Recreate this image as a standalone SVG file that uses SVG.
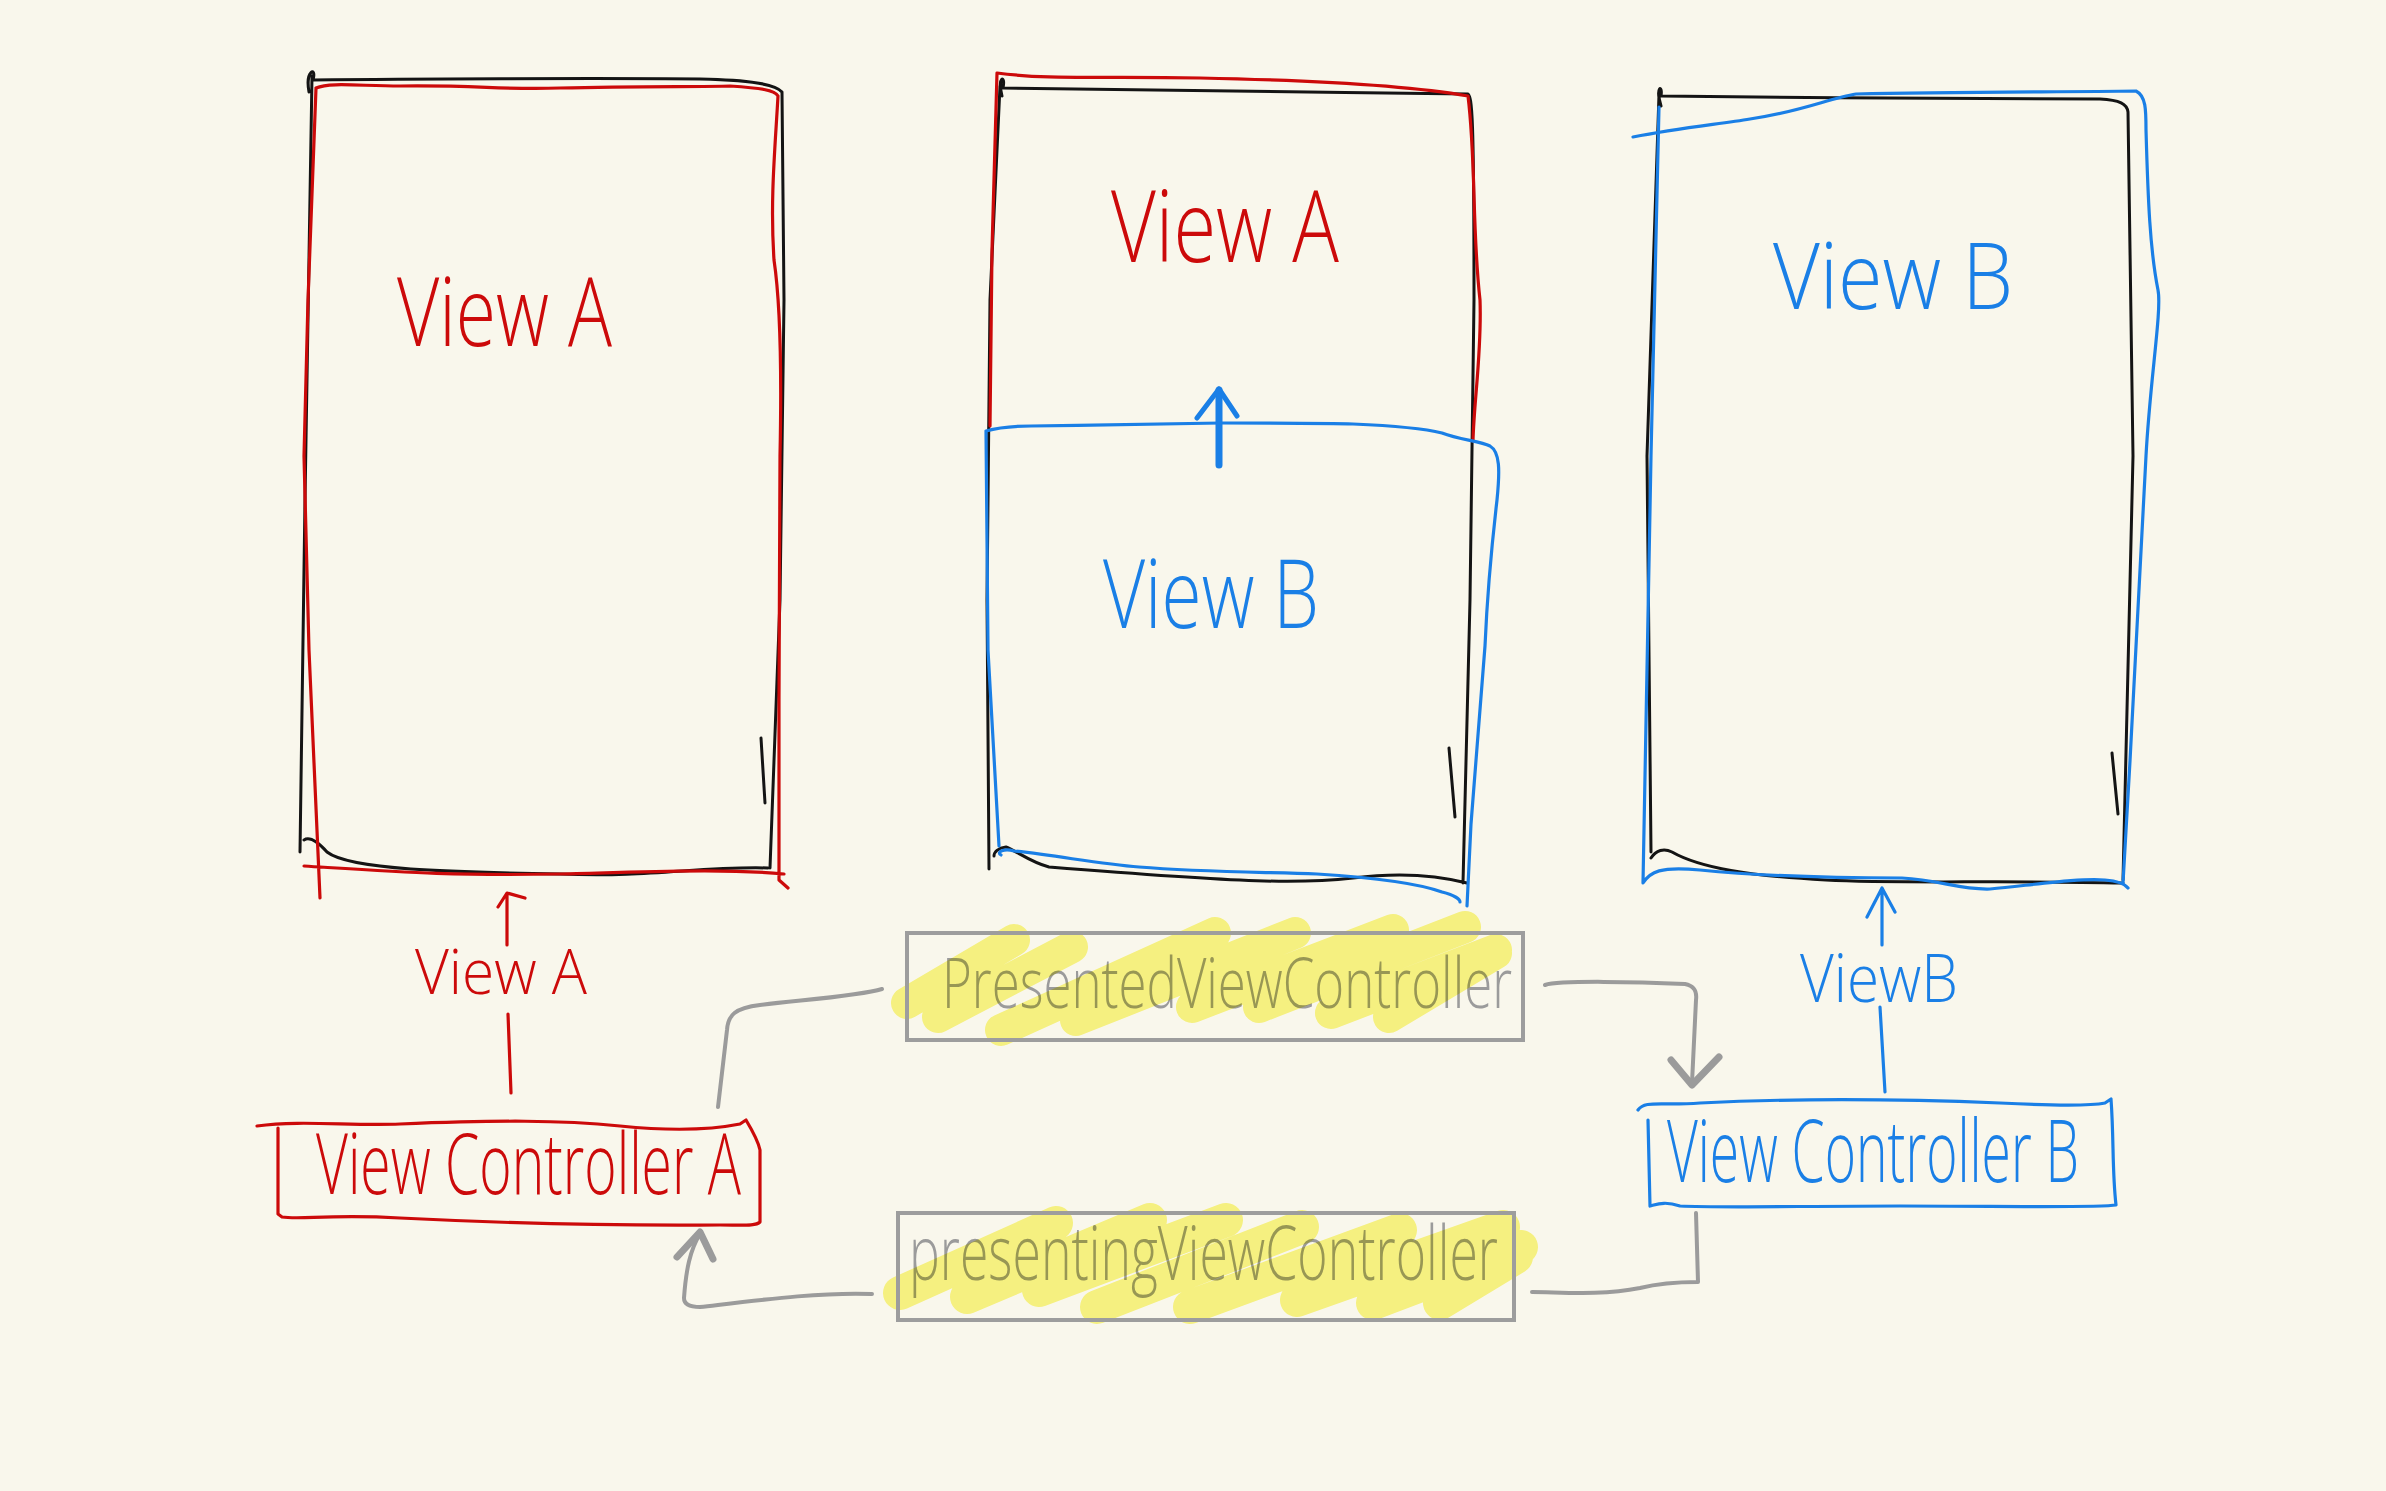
<svg xmlns="http://www.w3.org/2000/svg" width="2386" height="1491" viewBox="0 0 2386 1491">
<defs>
<style>
.s{fill:none;stroke-linecap:round;stroke-linejoin:round}
.blk{stroke:#141414;stroke-width:3}
.red{stroke:#cc0a0a;stroke-width:3.2}
.blue{stroke:#1a7fe6;stroke-width:3.2}
.gray{stroke:#9b9b9b;stroke-width:4}
.box{fill:none;stroke:#9d9d9d;stroke-width:4}
.hl{fill:none;stroke:#fbf88a;stroke-width:32;stroke-linecap:round;mix-blend-mode:multiply}
.t{font-family:"Open Sans","Liberation Sans",sans-serif;font-weight:300}
.tr{fill:#cc0a0a}
.tb{fill:#1a7fe6}
.tg{fill:#9b9b9b}
</style>
</defs>
<rect width="2386" height="1491" fill="#f9f7ec"/>

<g id="screen1">
<path class="s blk" d="M309,92 C305,70 317,66 313,80 C400,79 600,78 700,79 C750,80 775,84 782,92 L784,300 L780,600 L770,868 M768,868 C700,866 650,878 560,874 C450,872 350,870 327,852 C318,842 310,836 304,840 M300,852 L305,500 L312,76 M761,738 L765,803"/>
<path class="s red" d="M316,88 C330,82 360,86 400,86 C480,85 500,90 560,88 C640,86 700,87 730,86 C760,88 775,90 778,96 C775,150 770,200 774,260 C780,300 782,360 780,456 L779,700 L779,880 L788,888 M304,866 C400,872 450,876 560,874 C650,872 720,868 784,874 M316,88 L308,300 L304,456 L309,650 L320,898"/>
<text class="t tr" x="397" y="346" font-size="96" textLength="215" lengthAdjust="spacingAndGlyphs">View A</text>
</g>

<g id="screen2">
<path class="s blk" d="M1002,96 C997,76 1006,74 1003,88 C1100,90 1300,92 1468,94 C1472,98 1474,110 1474,300 L1470,600 L1463,883 M1467,883 C1440,876 1400,872 1353,878 C1300,884 1250,883 1049,867 C1030,862 1015,850 1006,847 C998,848 994,852 994,856 M989,869 L987,600 L990,300 L1000,86 M1449,748 L1455,817"/>
<path class="s red" d="M997,73 C1050,80 1100,76 1200,78 C1300,80 1400,84 1468,96 C1476,160 1472,230 1480,300 C1482,350 1474,400 1473,441 M997,73 L992,250 L990,426"/>
<path class="s blue" d="M986,431 C1000,427 1020,426 1031,426 C1100,425 1180,424 1221,423 C1300,423 1330,423 1353,424 C1400,426 1430,430 1442,433 C1460,440 1480,441 1490,446 C1500,452 1500,470 1497,500 C1490,560 1487,600 1485,646 L1471,824 L1467,906 M986,431 L988,650 L999,846 M1001,855 C996,852 1004,848 1014,851 C1060,856 1100,864 1139,867 C1200,872 1260,872 1317,874 C1380,878 1420,884 1442,892 C1454,895 1460,899 1460,902"/>
<path class="s blue" style="stroke-width:7" d="M1219,465 L1219,390"/>
<path class="s blue" style="stroke-width:5" d="M1197,418 L1219,389 L1237,416"/>
<text class="t tr" x="1111" y="262" font-size="100" textLength="228" lengthAdjust="spacingAndGlyphs">View A</text>
<text class="t tb" x="1103" y="628" font-size="96" textLength="216" lengthAdjust="spacingAndGlyphs">View B</text>
</g>

<g id="screen3">
<path class="s blk" d="M1661,106 C1655,86 1663,84 1661,96 C1800,98 2000,99 2100,99 C2120,100 2127,104 2128,112 L2133,456 L2123,880 M2123,883 C2000,880 1900,884 1826,880 C1750,876 1700,868 1672,852 C1664,848 1656,850 1651,858 M1651,852 L1647,456 L1659,94 M2112,753 L2118,814"/>
<path class="s blue" d="M1633,137 C1680,128 1720,124 1750,119 C1800,112 1830,98 1856,94 C1950,92 2050,92 2136,91 C2146,96 2146,110 2146,130 C2148,200 2150,250 2158,290 C2162,310 2150,380 2146,456 L2130,761 L2123,883 M1659,107 L1651,456 L1643,883 C1650,872 1660,866 1700,870 C1760,876 1820,878 1902,878 C1940,880 1960,890 1990,889 C2040,884 2080,878 2105,880 C2118,881 2125,884 2128,888"/>
<text class="t tb" x="1773" y="309" font-size="92" textLength="240" lengthAdjust="spacingAndGlyphs">View B</text>
</g>

<g id="vcA">
<path class="s red" d="M257,1126 C300,1120 350,1126 400,1124 C500,1120 560,1120 620,1126 C680,1132 720,1128 740,1124 L746,1120 C752,1130 758,1140 760,1150 L760,1222 C756,1226 745,1225 720,1225 C600,1226 480,1222 400,1218 C330,1214 300,1220 282,1217 L278,1214 L278,1128"/>
<text class="t tr" x="316" y="1194" font-size="84" textLength="425" lengthAdjust="spacingAndGlyphs">View  Controller A</text>
</g>

<g id="vcB">
<path class="s blue" d="M1638,1110 C1645,1100 1660,1106 1700,1103 C1800,1098 1900,1099 2000,1103 C2060,1106 2090,1106 2105,1103 L2111,1099 C2114,1140 2112,1170 2116,1205 C2100,1208 2000,1206 1900,1206 C1800,1206 1720,1208 1680,1206 C1665,1201 1658,1204 1650,1206 L1648,1120"/>
<text class="t tb" x="1667" y="1182" font-size="86" textLength="412" lengthAdjust="spacingAndGlyphs">View Controller B</text>
</g>

<g id="presented">
<text class="t tg" x="942" y="1008" font-size="70" textLength="570" lengthAdjust="spacingAndGlyphs">PresentedViewController</text>
<path class="hl" d="M907,1003 L1014,940 M938,1017 L1072,947 M1001,1030 L1215,933 M1076,1020 L1295,933 M1192,1007 L1393,930 M1259,1007 L1465,927 M1331,1013 L1496,950 M1389,1017 L1496,953"/>
<rect class="box" x="907" y="933" width="616" height="107"/>
</g>

<g id="presenting">
<text class="t tg" x="909" y="1280" font-size="76" textLength="589" lengthAdjust="spacingAndGlyphs">presentingViewController</text>
<path class="hl" style="stroke-width:34" d="M900,1293 L1056,1223 M967,1297 L1150,1220 M1039,1290 L1226,1220 M1097,1307 L1302,1227 M1190,1307 L1400,1230 M1297,1300 L1503,1227 M1373,1303 L1521,1247 M1440,1303 L1516,1257"/>
<rect class="box" x="898" y="1213" width="616" height="107"/>
</g>

<g id="connectors">
<path class="s red" d="M507,945 L507,893 M498,907 L507,893 L525,898 M508,1014 L511,1093"/>
<text class="t tr" x="415" y="994" font-size="62" textLength="172" lengthAdjust="spacingAndGlyphs">View  A</text>
<path class="s blue" d="M1882,945 L1882,888 M1867,917 L1882,888 L1895,912 M1880,1007 L1885,1092"/>
<text class="t tb" x="1800" y="1002" font-size="66" textLength="158" lengthAdjust="spacingAndGlyphs">ViewB</text>
<path class="s gray" d="M882,989 C860,996 800,1000 760,1005 C735,1008 728,1015 727,1030 L718,1107"/>
<path class="s gray" d="M1545,985 C1560,980 1640,982 1685,984 C1695,986 1697,992 1696,1000 L1692,1083"/>
<path class="s gray" style="stroke-width:7" d="M1671,1060 L1692,1085 L1719,1057"/>
<path class="s gray" d="M1696,1213 L1698,1282 C1680,1282 1660,1283 1640,1288 C1600,1296 1560,1292 1532,1292"/>
<path class="s gray" d="M872,1294 C820,1292 760,1300 700,1307 C690,1307 684,1304 684,1298 C686,1270 690,1250 700,1234"/>
<path class="s gray" style="stroke-width:7" d="M677,1257 L700,1232 L713,1259"/>
</g>
</svg>
